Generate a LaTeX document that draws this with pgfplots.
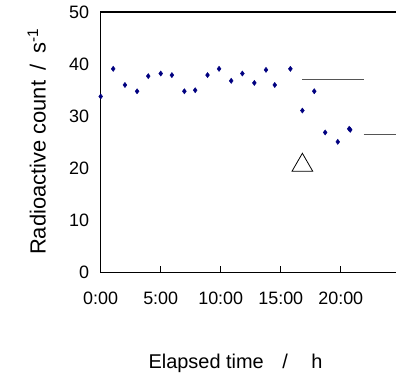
\documentclass[border=0pt]{standalone}
\usepackage{pgfplots}
\pgfplotsset{compat=1.18}
\usepackage{fontspec}
\setmainfont{Liberation Sans}
\definecolor{navy}{HTML}{000080}
\definecolor{lgray}{HTML}{555555}
\begin{document}
\begin{tikzpicture}
\useasboundingbox (-100.7bp,-105.3bp) rectangle (295.3bp,272.7bp);
\begin{axis}[
 at={(0,0)}, anchor=south west,
 scale only axis, width=295.3bp, height=260.7bp,
 xmin=0, xmax=24.6, ymin=0, ymax=50,
 axis line style={draw=none},
 xtick={0,5,10,15,20}, xticklabels={0:00,5:00,10:00,15:00,20:00},
 ytick={0,10,20,30,40,50},
 tick align=inside, major tick length=6.5bp,
 tick pos=left,
 ytick style={draw=none},
 xtick style={black, line width=0.6bp},
 ticklabel style={font=\fontsize{18}{20}\selectfont},
 xticklabel style={yshift=-16bp},
 yticklabel style={xshift=-8bp},
 /pgf/number format/assume math mode=true,
 clip=false,
]
\addplot[only marks, mark=diamond*, mark size=2.6bp, navy] coordinates {
(0,33.8) (1.04,39.1) (2.02,36.0) (3.03,34.8) (3.96,37.7) (5.0,38.2)
(5.93,37.9) (6.97,34.8) (7.87,35.0) (8.9,37.9) (9.86,39.1) (10.87,36.8)
(11.8,38.2) (12.8,36.4) (13.77,38.9) (14.5,36.0) (15.8,39.1) (16.8,31.1)
(17.79,34.8) (18.7,26.9) (19.75,25.1) (20.7,27.6) (20.79,27.4)
};
\addplot[lgray, line width=0.9bp] coordinates {(16.8,37.0) (21.9,37.0)};
\addplot[lgray, line width=0.9bp] coordinates {(21.9,26.5) (24.6,26.5)};
\addplot[only marks, mark=triangle, mark size=12bp, black, mark options={line width=0.8bp}] coordinates {(16.8,20.6)};
\draw[line width=1.5bp, black] (rel axis cs:1,1) -- (rel axis cs:0,1) -- (rel axis cs:0,0) -- (rel axis cs:1,0);
\end{axis}
\node[rotate=90, anchor=base, inner sep=0pt, font=\fontsize{22}{24}\selectfont] at (-55bp,131bp) {Radioactive count\hspace{10bp}/\hspace{11bp}s\textsuperscript{-1}};
\node[anchor=base, inner sep=0pt, font=\fontsize{20}{22}\selectfont] at (134.8bp,-95.3bp) {Elapsed time\hspace{18.5bp}/\hspace{23.5bp}h};
\end{tikzpicture}
\end{document}
